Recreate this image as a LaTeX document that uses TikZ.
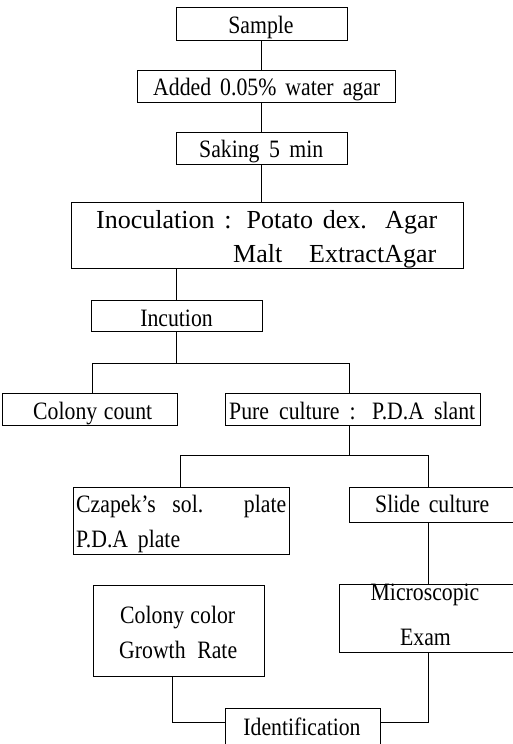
\documentclass[tikz,border=0pt]{standalone}
\usepackage{fontspec}
\setmainfont[FakeStretch=0.87]{Liberation Serif}
\newfontfamily\widefont{Liberation Serif}
\begin{document}
\begin{tikzpicture}[x=1pt,y=-1pt,
  box/.style={draw,line width=0.8pt,inner sep=0pt},
  conn/.style={line width=0.8pt},
  txt/.style={inner sep=0pt,anchor=base west,font=\fontsize{25}{30}\selectfont},
  ctxt/.style={inner sep=0pt,anchor=base,font=\fontsize{25}{30}\selectfont},
  btxt/.style={inner sep=0pt,anchor=base west,font=\widefont\fontsize{26}{31}\selectfont}]
\useasboundingbox (0,0) rectangle (513,744);
\clip (0,0) rectangle (513,744);
% boxes
\node[box,minimum width=171pt,minimum height=33pt] (sample) at (261.5,23.5) {};
\node[box,minimum width=258pt,minimum height=32pt] (added) at (266,86) {};
\node[box,minimum width=171pt,minimum height=32pt] (saking) at (261.5,148) {};
\node[box,minimum width=392pt,minimum height=66pt] (inoc) at (267,235) {};
\node[box,minimum width=171pt,minimum height=31pt] (incu) at (176.5,315.5) {};
\node[box,minimum width=175pt,minimum height=32pt] (count) at (89.5,409) {};
\node[box,minimum width=255pt,minimum height=32pt] (pure) at (352.5,409) {};
\node[box,minimum width=216pt,minimum height=67pt] (czap) at (181,520.5) {};
\node[box,minimum width=171pt,minimum height=35pt] (slide) at (434.5,504.5) {};
\node[box,minimum width=181pt,minimum height=68pt] (micro) at (429.5,618) {};
\node[box,minimum width=171pt,minimum height=91pt] (color) at (178.5,630.5) {};
\node[box,minimum width=155pt,minimum height=40pt] (ident) at (302.5,728) {};
% texts
\node[ctxt] (tsample) at (261,33) {Sample};
\node[txt] (tadded) at (153,95) {\makebox[227pt][s]{Added 0.05\% water agar}};
\node[txt] (tsaking) at (199,157) {\makebox[124pt][s]{Saking 5 min}};
\node[btxt] (tinoc1) at (96,228) {\makebox[341pt][s]{Inoculation : Potato dex. Agar}};
\node[btxt] (tinoc2) at (233,262) {\makebox[203pt][s]{Malt ExtractAgar}};
\node[ctxt] (tincu) at (176.5,326) {Incution};
\node[txt] (tcount) at (33,419) {\makebox[119pt][s]{Colony count}};
\node[txt] (tpure) at (229,419) {\makebox[246pt][s]{Pure culture : P.D.A slant}};
\node[txt] (tczap1) at (76,512) {\makebox[210pt][s]{Czapek’s sol. plate}};
\node[txt] (tczap2) at (76,547) {\makebox[104pt][s]{P.D.A plate}};
\node[txt] (tslide) at (375,512) {\makebox[114pt][s]{Slide culture}};
\node[ctxt] (tmicro1) at (425,600) {Microscopic};
\node[ctxt] (tmicro2) at (425.5,645) {Exam};
\node[txt] (tcolor1) at (120,623) {\makebox[115pt][s]{Colony color}};
\node[txt] (tcolor2) at (119,658) {\makebox[118pt][s]{Growth Rate}};
\node[ctxt] (tident) at (302,735) {Identification};
% junction points
\coordinate (main) at (261,0);
\coordinate (j1) at (176.5,363);
\coordinate (cL) at (92,363);
\coordinate (cR) at (349,363);
\coordinate (dL) at (180,455);
\coordinate (dR) at (428,455);
\coordinate (eL) at (172,722);
\coordinate (eR) at (428,722);
% connectors
\draw[conn] (main |- sample.south) -- (main |- added.north);
\draw[conn] (main |- added.south) -- (main |- saking.north);
\draw[conn] (main |- saking.south) -- (main |- inoc.north);
\draw[conn] (j1 |- inoc.south) -- (j1 |- incu.north);
\draw[conn] (j1 |- incu.south) -- (j1);
\draw[conn] (cL |- count.north) -- (cL) -- (cR) -- (cR |- pure.north);
\draw[conn] (cR |- pure.south) -- (cR |- dL);
\draw[conn] (dL |- czap.north) -- (dL) -- (dR) -- (dR |- slide.north);
\draw[conn] (dR |- slide.south) -- (dR |- micro.north);
\draw[conn] (eL |- color.south) -- (eL) -- (eL -| ident.west);
\draw[conn] (eR |- micro.south) -- (eR) -- (eR -| ident.east);
\end{tikzpicture}
\end{document}
